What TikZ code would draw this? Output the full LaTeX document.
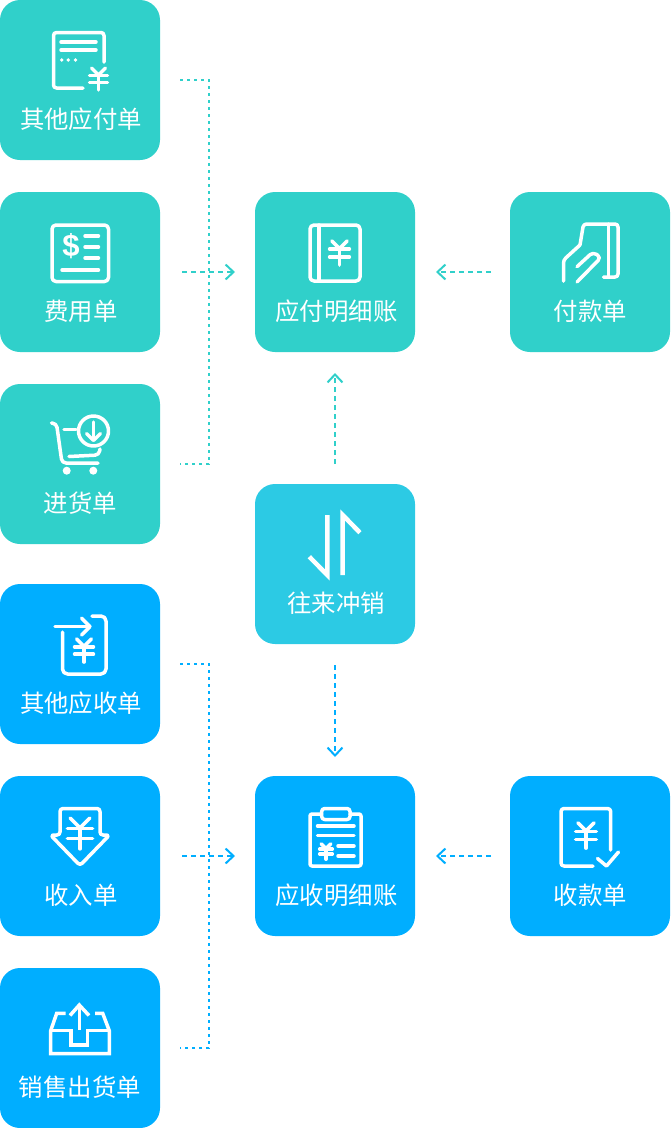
\documentclass[tikz,border=0pt]{standalone}
\usepackage{fontspec}
\newfontfamily\cjk{Noto Sans CJK SC}
\usetikzlibrary{arrows.meta}
\definecolor{paycolor}{HTML}{30D0CA}
\definecolor{recvcolor}{HTML}{00AEFF}
\definecolor{settlecolor}{HTML}{2CCAE4}

\begin{document}
\begin{tikzpicture}[
    x = 1pt, y = -1pt,
    card/.style = { rounded corners = 20pt, minimum size = 160pt, inner sep = 0, outer sep = 0 },
    caption/.style = { text = white, inner sep = 0, font = \cjk\fontsize{24.4}{24}\selectfont },
    icon/.style = { draw = white, line width = 3.5pt, line cap = round, line join = round },
    link/.style = { line width = 2pt, dash pattern = on 3pt off 4pt },
    flow/.style = { line width = 2pt, dash pattern = on 5pt off 4pt, -{Straight Barb[length = 8pt, width = 15pt, line width = 2pt]} },
    yen/.pic = {
        \draw[icon, pic actions] (-7, -11) -- (0, -4) -- (7, -11);
        \draw[icon, pic actions] (-9, -3.5) -- (9, -3.5);
        \draw[icon, pic actions] (-9, 3.5) -- (9, 3.5);
        \draw[icon, pic actions] (0, -4) -- (0, 11);
    }
]
    \useasboundingbox (0, 0) rectangle (670, 1128);

    \node[card, fill = paycolor] (otherpay) at (80, 80) {};
    \node[card, fill = paycolor] (expense) at (80, 272) {};
    \node[card, fill = paycolor] (purchase) at (80, 464) {};
    \node[card, fill = paycolor] (paydetail) at (335, 272) {};
    \node[card, fill = paycolor] (paybill) at (590, 272) {};
    \node[card, fill = settlecolor] (settle) at (335, 564) {};
    \node[card, fill = recvcolor] (otherrecv) at (80, 664) {};
    \node[card, fill = recvcolor] (income) at (80, 856) {};
    \node[card, fill = recvcolor] (sales) at (80, 1048) {};
    \node[card, fill = recvcolor] (recvdetail) at (335, 856) {};
    \node[card, fill = recvcolor] (recvbill) at (590, 856) {};

    \node[caption] (otherpaytext) at (81, 119) {其他应付单};
    \node[caption] (expensetext) at (81, 311) {费用单};
    \node[caption] (purchasetext) at (80.5, 503) {进货单};
    \node[caption] (paydetailtext) at (336.5, 311) {应付明细账};
    \node[caption] (paybilltext) at (590.5, 311) {付款单};
    \node[caption] (settletext) at (336, 603) {往来冲销};
    \node[caption] (otherrecvtext) at (81, 703) {其他应收单};
    \node[caption] (incometext) at (81, 895) {收入单};
    \node[caption] (salestext) at (80, 1087) {销售出货单};
    \node[caption] (recvdetailtext) at (336.5, 895) {应收明细账};
    \node[caption] (recvbilltext) at (590.5, 895) {收款单};

    \coordinate (paybus) at (209, 272);
    \coordinate (recvbus) at (209, 856);

    \draw[link, paycolor, shorten <= 20pt, shorten >= 20pt]
        (otherpay.east) -| (paybus) |- (purchase.east);
    \draw[flow, paycolor, shorten <= 22pt, shorten >= 20pt] (expense.east) -- (paydetail.west);
    \draw[flow, paycolor, shorten <= 19pt, shorten >= 21pt] (paybill.west) -- (paydetail.east);
    \draw[flow, paycolor, shorten <= 20pt, shorten >= 21pt] (settle.north) -- (paydetail.south);
    \draw[flow, recvcolor, shorten <= 21pt, shorten >= 19pt] (settle.south) -- (recvdetail.north);
    \draw[link, recvcolor, shorten <= 20pt, shorten >= 20pt]
        (otherrecv.east) -| (recvbus) |- (sales.east);
    \draw[flow, recvcolor, shorten <= 22pt, shorten >= 20pt] (income.east) -- (recvdetail.west);
    \draw[flow, recvcolor, shorten <= 19pt, shorten >= 21pt] (recvbill.west) -- (recvdetail.east);

    % other payable
    \draw[icon, rounded corners = 3pt] (83, 88) -- (53.5, 88) -- (53.5, 32.5) -- (104, 32.5) -- (104, 62);
    \draw[icon] (61, 42) -- (96, 42);
    \draw[icon] (61, 50) -- (96, 50);
    \fill[white] (61.7, 60) circle (1.9) (68.3, 60) circle (1.9) (75.5, 60) circle (1.9);
    \pic[line width = 4pt] at (98.5, 79) {yen};

    % expense
    \draw[icon, rounded corners = 4pt] (52, 225) rectangle (108.5, 281.5);
    \node[text = white, inner sep = 0, font = \fontspec{Liberation Sans Bold}\fontsize{31}{31}\selectfont] (dollar) at (71, 246) {\$};
    \draw[icon] (85, 236) -- (98.5, 236);
    \draw[icon] (85, 247) -- (98.5, 247);
    \draw[icon] (85, 258) -- (98.5, 258);
    \draw[icon] (62, 270) -- (98.5, 270);

    % purchase
    \draw[icon] (93.5, 431) circle (15);
    \draw[icon] (93.5, 422) -- (93.5, 440);
    \draw[icon] (86.5, 433.5) -- (93.5, 440.5) -- (100.5, 433.5);
    \draw[icon, rounded corners = 4pt] (51.5, 423) -- (56.5, 423.5) -- (62, 463) -- (98, 463);
    \draw[icon] (64, 429.5) -- (76, 429.5);
    \draw[icon, rounded corners = 4pt] (69, 456.5) -- (99, 455) -- (100, 449);
    \fill[white] (66.7, 470.7) circle (4) (93.3, 470.7) circle (4);

    % other receivable
    \draw[icon] (55, 626.7) -- (90, 626.7);
    \draw[icon] (81.5, 618) -- (90, 626.7) -- (81.5, 635);
    \draw[icon, rounded corners = 5pt] (92, 616) -- (106, 616) -- (106, 674) -- (62.5, 674) -- (62.5, 632);
    \pic[scale = 1.05] at (84, 650.5) {yen};

    % income
    \draw[icon, rounded corners = 3pt] (60, 835) -- (60, 808.5) -- (100, 808.5) -- (100, 835) -- (109.5, 835) -- (80, 865.5) -- (50.5, 835) -- cycle;
    \pic[scale = 1.4, line width = 4pt] at (80, 833.5) {yen};

    % sales
    \draw[icon, line join = miter, line cap = butt] (65.7, 1013.3) -- (56.7, 1013.3) -- (50.7, 1030.7) -- (50.7, 1053.5) -- (109.3, 1053.5) -- (109.3, 1030.7) -- (102.7, 1013.3) -- (95, 1013.3);
    \draw[icon, line join = miter, line cap = butt] (50.7, 1030.7) -- (71, 1030.7) -- (71, 1045) -- (87.3, 1045) -- (87.3, 1030.7) -- (109.3, 1030.7);
    \draw[icon, line cap = butt] (79.3, 1030) -- (79.3, 1005);
    \draw[icon, line join = miter, line cap = butt] (70, 1015.5) -- (79.3, 1005) -- (89, 1015.5);

    % payable ledger
    \draw[icon, rounded corners = 4pt] (310, 225) rectangle (360, 281);
    \draw[icon] (319, 225) -- (319, 281);
    \pic[scale = 1.1, line width = 4.5pt] at (339.5, 253) {yen};

    % payment
    \draw[icon, rounded corners = 3pt] (580, 245) -- (583.5, 224) -- (618, 224) -- (618, 277) -- (603.5, 277);
    \draw[icon] (608.3, 224) -- (608.3, 277);
    \draw[icon, rounded corners = 3pt] (563.5, 281) -- (563.5, 260) -- (580, 245);
    \draw[icon, rounded corners = 4pt] (577, 266.7) -- (593, 252) -- (601, 257.5) -- (577, 282);

    % settlement
    \draw[icon, line width = 4.5pt, line cap = butt, line join = miter] (327.3, 515) -- (327.3, 575) -- (309.3, 556.7);
    \draw[icon, line width = 4.5pt, line cap = butt, line join = miter] (342.7, 575) -- (342.7, 515) -- (360, 532.7);

    % receivable ledger
    \draw[icon, rounded corners = 2pt] (321.7, 814) -- (310, 814) -- (310, 866) -- (361, 866) -- (361, 814) -- (350, 814);
    \draw[icon, rounded corners = 3pt] (321.7, 808.5) rectangle (350, 819.5);
    \draw[icon] (317.5, 826) -- (354, 826);
    \draw[icon] (317.5, 835.7) -- (354, 835.7);
    \pic[scale = 0.7, line width = 2.5pt] at (326, 851.5) {yen};
    \draw[icon] (338, 846) -- (354, 846);
    \draw[icon] (338, 856) -- (354, 856);

    % receipt
    \draw[icon, rounded corners = 3pt] (610.7, 850) -- (610.7, 808.5) -- (561, 808.5) -- (561, 866) -- (593, 866);
    \pic[scale = 1.15, line width = 4pt] at (586, 835.5) {yen};
    \draw[icon] (597.5, 858.5) -- (606.5, 866) -- (618.5, 852);
\end{tikzpicture}
\end{document}
